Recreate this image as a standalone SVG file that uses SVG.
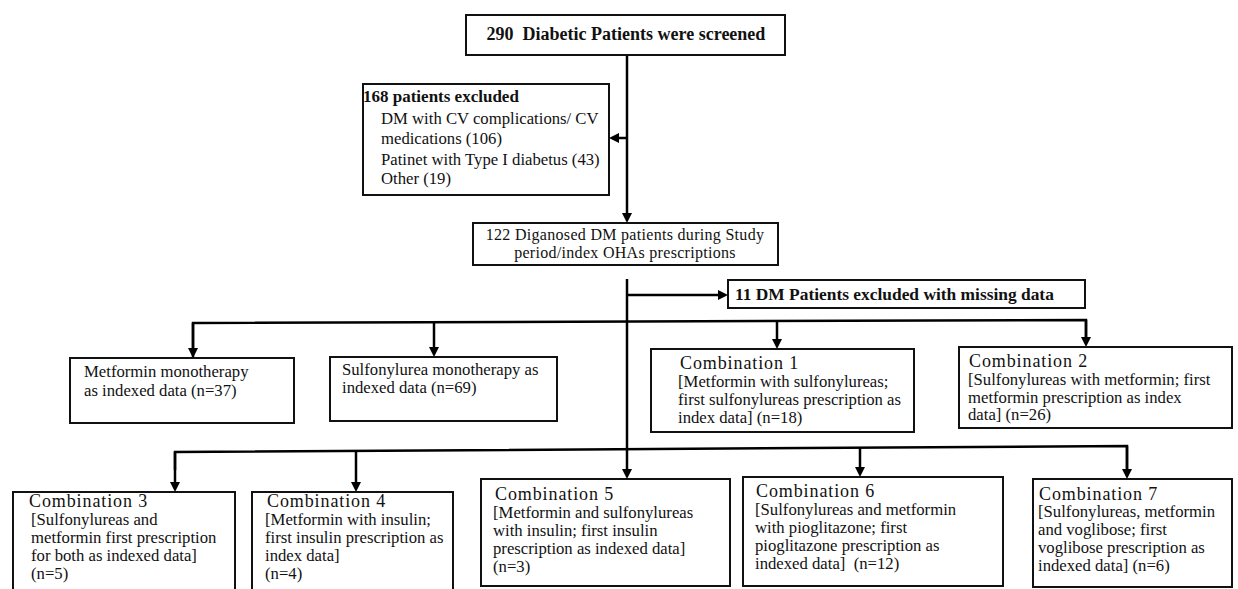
<svg xmlns="http://www.w3.org/2000/svg" width="1238" height="589" viewBox="0 0 1238 589">
<defs>
<style>
.box{fill:#fff;stroke:#111;stroke-width:2}
.ln{fill:none;stroke:#000;stroke-width:2.5}
.ar{fill:none;stroke:#000;stroke-width:2.5;marker-end:url(#ah)}
text{font-family:"Liberation Serif","Times New Roman",serif;fill:#111;white-space:pre}
.t{font-size:16.7px}
.b{font-size:17.4px;font-weight:bold}
.h{font-size:18px;letter-spacing:0.9px}
</style>
<marker id="ah" viewBox="0 0 10 10" refX="6" refY="5" markerWidth="10" markerHeight="10" markerUnits="userSpaceOnUse" orient="auto">
<path d="M0,0 L10,5 L0,10 z" fill="#000"/>
</marker>
</defs>
<rect width="1238" height="589" fill="#fff"/>

<g id="connectors">
<line class="ar" x1="627" y1="55" x2="627" y2="219"/>
<line class="ar" x1="627" y1="138" x2="613" y2="138"/>
<line class="ar" x1="627" y1="279" x2="627" y2="475"/>
<line class="ar" x1="627" y1="295" x2="724" y2="295"/>
<polyline class="ln" points="193,358 193,323 1086,320 1086,343"/>
<line class="ar" x1="193" y1="323" x2="193" y2="354"/>
<line class="ar" x1="434" y1="322" x2="434" y2="353"/>
<line class="ar" x1="777" y1="321" x2="777" y2="345"/>
<line class="ar" x1="1086" y1="320" x2="1086" y2="343"/>
<polyline class="ln" points="175,470 175,452 1127,446 1127,470"/>
<line class="ar" x1="175" y1="452" x2="175" y2="488"/>
<line class="ar" x1="356" y1="451" x2="356" y2="488"/>
<line class="ar" x1="860" y1="448" x2="860" y2="473"/>
<line class="ar" x1="1127" y1="446" x2="1127" y2="475"/>
</g>

<g id="screened">
<rect class="box" x="466" y="15" width="319" height="40"/>
<text class="b" x="626" y="40" text-anchor="middle" style="font-size:18px">290  Diabetic Patients were screened</text>
</g>

<g id="excluded">
<rect class="box" x="363" y="84" width="246" height="111"/>
<text class="b" x="363" y="102" style="font-size:17px">168 patients excluded</text>
<text class="t" x="381" y="124">DM with CV complications/ CV</text>
<text class="t" x="381" y="144">medications (106)</text>
<text class="t" x="381" y="165">Patinet with Type I diabetus (43)</text>
<text class="t" x="381" y="184">Other (19)</text>
</g>

<g id="diagnosed">
<rect class="box" x="473" y="223" width="305" height="42"/>
<text class="t" x="625" y="240" text-anchor="middle" style="font-size:16px;letter-spacing:0.3px">122 Diganosed DM patients during Study</text>
<text class="t" x="625" y="258" text-anchor="middle" style="font-size:16px;letter-spacing:0.3px">period/index OHAs prescriptions</text>
</g>

<g id="missing">
<rect class="box" x="728" y="280" width="357" height="28"/>
<text class="b" x="735" y="300">11 DM Patients excluded with missing data</text>
</g>

<g id="metformin">
<rect class="box" x="70" y="358" width="224" height="65"/>
<text class="t" x="84" y="377">Metformin monotherapy</text>
<text class="t" x="84" y="396">as indexed data (n=37)</text>
</g>

<g id="sulfonylurea">
<rect class="box" x="330" y="357" width="227" height="64"/>
<text class="t" x="342" y="375">Sulfonylurea monotherapy as</text>
<text class="t" x="342" y="393">indexed data (n=69)</text>
</g>

<g id="combination1">
<rect class="box" x="651" y="349" width="263" height="83"/>
<text class="h" x="680" y="369">Combination 1</text>
<text class="t" x="678" y="387">[Metformin with sulfonylureas;</text>
<text class="t" x="678" y="405">first sulfonylureas prescription as</text>
<text class="t" x="678" y="423">index data] (n=18)</text>
</g>

<g id="combination2">
<rect class="box" x="959" y="347" width="273" height="81"/>
<text class="h" x="969" y="367">Combination 2</text>
<text class="t" x="968" y="385">[Sulfonylureas with metformin; first</text>
<text class="t" x="968" y="403">metformin prescription as index</text>
<text class="t" x="968" y="420">data] (n=26)</text>
</g>

<g id="combination3">
<path class="box" d="M13,589 V492 H235 V589"/>
<text class="h" x="29" y="507">Combination 3</text>
<text class="t" x="31" y="525">[Sulfonylureas and</text>
<text class="t" x="31" y="543">metformin first prescription</text>
<text class="t" x="31" y="561">for both as indexed data]</text>
<text class="t" x="31" y="579">(n=5)</text>
</g>

<g id="combination4">
<path class="box" d="M252,589 V492 H453 V589"/>
<text class="h" x="267" y="507">Combination 4</text>
<text class="t" x="265" y="525">[Metformin with insulin;</text>
<text class="t" x="265" y="543">first insulin prescription as</text>
<text class="t" x="265" y="561">index data]</text>
<text class="t" x="265" y="579">(n=4)</text>
</g>

<g id="combination5">
<rect class="box" x="481" y="479" width="249" height="107"/>
<text class="h" x="495" y="500">Combination 5</text>
<text class="t" x="493" y="518">[Metformin and sulfonylureas</text>
<text class="t" x="493" y="536">with insulin; first insulin</text>
<text class="t" x="493" y="554">prescription as indexed data]</text>
<text class="t" x="493" y="572">(n=3)</text>
</g>

<g id="combination6">
<rect class="box" x="743" y="477" width="260" height="109"/>
<text class="h" x="756" y="497">Combination 6</text>
<text class="t" x="755" y="515">[Sulfonylureas and metformin</text>
<text class="t" x="755" y="533">with pioglitazone; first</text>
<text class="t" x="755" y="551">pioglitazone prescription as</text>
<text class="t" x="755" y="569">indexed data]  (n=12)</text>
</g>

<g id="combination7">
<rect class="box" x="1033" y="479" width="199" height="108"/>
<text class="h" x="1039" y="500">Combination 7</text>
<text class="t" x="1038" y="517">[Sulfonylureas, metformin</text>
<text class="t" x="1038" y="535">and voglibose; first</text>
<text class="t" x="1038" y="553">voglibose prescription as</text>
<text class="t" x="1038" y="571">indexed data] (n=6)</text>
</g>
</svg>
